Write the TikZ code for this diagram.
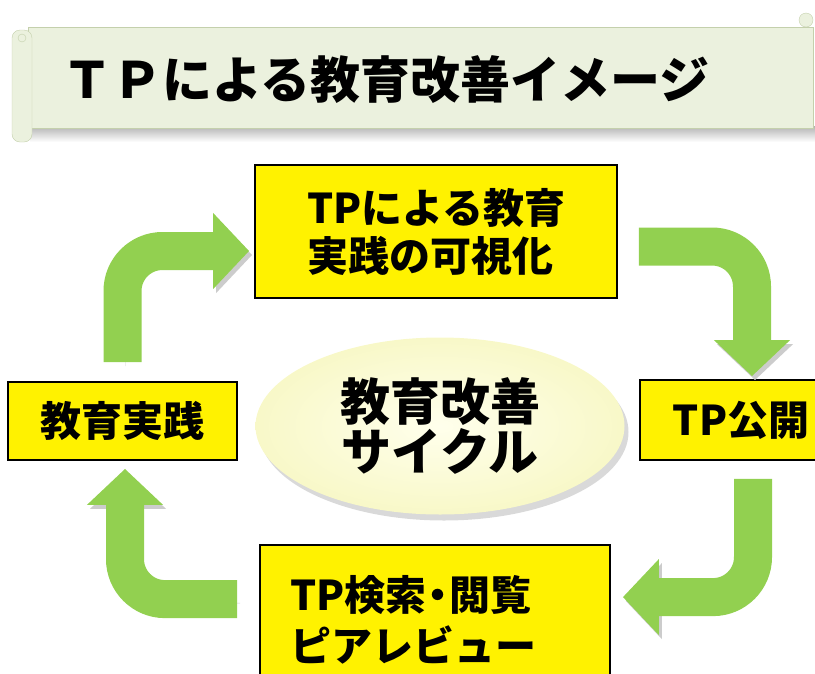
\documentclass[tikz,border=0pt]{standalone}
\usepackage{fontspec}
\setmainfont{Noto Sans CJK JP}
\usetikzlibrary{arrows.meta,shapes.geometric}
\definecolor{leaf}{HTML}{92D050}
\definecolor{scroll}{RGB}{235,241,222}
\definecolor{scrollline}{RGB}{196,208,172}
\definecolor{creamin}{RGB}{255,255,236}
\definecolor{creamout}{RGB}{248,248,200}
\tikzset{
  panel/.style={draw=black, line width=1.8pt, fill=yellow, inner ysep=0pt, align=left,
    font=\bfseries\fontsize{41}{48}\selectfont},
  flow/.style={draw=leaf, line width=38pt, rounded corners=40pt,
    -{Triangle[length=36pt,width=74pt]},
    preaction={draw=black!20, transform canvas={shift={(3pt,-4pt)}}}},
}

\begin{document}
\begin{tikzpicture}[x=1pt, y=-1pt]
  \useasboundingbox (0,0) rectangle (815,673);
  \clip (0,0) rectangle (815,673);
  % title scroll
  \shade[top color=black!30, bottom color=white] (30,126) rectangle (815,142);
  \draw[scrollline, fill=scroll] (28,27) rectangle (813,128);
  \draw[scrollline, fill=scroll, rounded corners=8pt] (12,30) rectangle (32,142);
  \draw[scrollline] (22,38) circle (4);
  \draw[scrollline, fill=scroll] (806,20) circle (7);
  \node (title) at (386,80) {\bfseries\fontsize{50}{50}\selectfont ＴＰによる教育改善イメージ};

  \node[ellipse, inner sep=0pt, minimum width=369pt, minimum height=177pt,
    inner color=creamin, outer color=creamout,
    preaction={fill=black!15, transform canvas={shift={(4pt,-6pt)}}},
    align=center, font=\bfseries\fontsize{50}{50}\selectfont] (cycle) at (440,426) {教育改善\\サイクル};

  \node[panel, minimum height=133pt, text width=258pt, inner xsep=52pt] (tpvis) at (436,231.5) {TPによる教育\\実践の可視化};
  \node[panel, minimum width=229pt, minimum height=78pt] (eduprac) at (122.5,421) {教育実践};
  \node[panel, anchor=west, minimum height=80pt, inner xsep=33pt] (tppub) at (639,420) {TP公開};
  \node[panel, minimum height=150pt, text width=290pt, inner xsep=30pt,
    font=\bfseries\fontsize{41}{51}\selectfont] (review) at (435,620) {TP検索\kern-.22em・\kern-.22em閲覧\\ピアレビュー};

  \draw[flow] ([yshift=19pt]eduprac.north) |- ([xshift=-5pt,yshift=-19.5pt]tpvis.west);
  \draw[flow] ([xshift=21pt,yshift=-15pt]tpvis.east) -| ([xshift=113pt,yshift=3pt]tppub.north west);
  \draw[flow] ([xshift=114pt,yshift=-18pt]tppub.south west) |- ([xshift=12pt,yshift=-53pt]review.north east);
  \draw[flow] ([xshift=-22pt,yshift=-55pt]review.north west) -| ([xshift=2.5pt,yshift=-8pt]eduprac.south);
\end{tikzpicture}
\end{document}
